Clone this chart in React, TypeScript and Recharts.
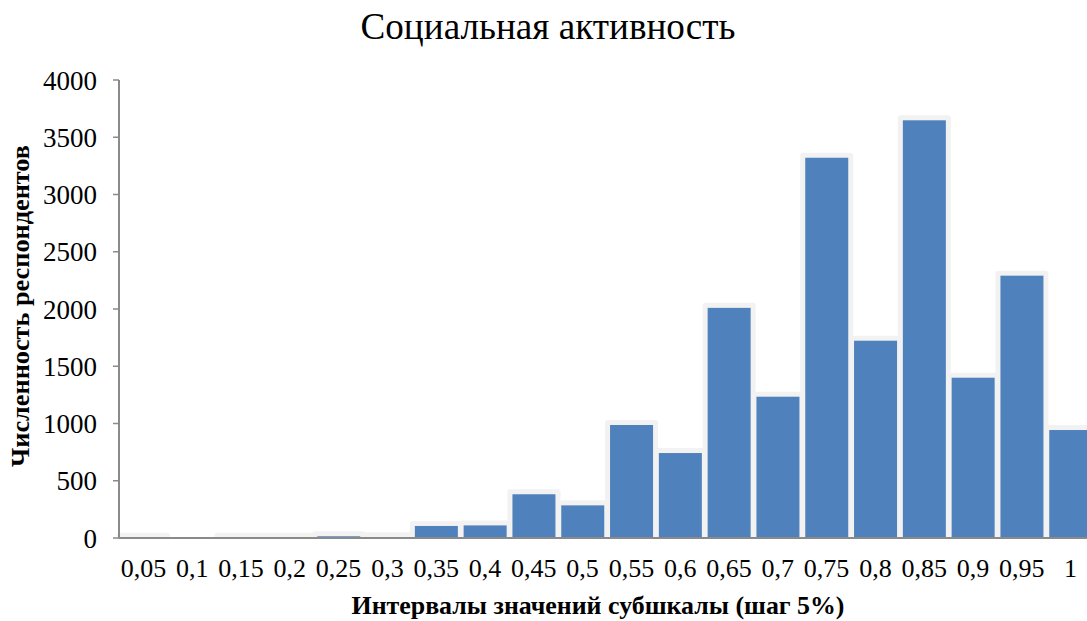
import { BarChart, Bar, XAxis, YAxis, Label } from "recharts";

const intervals = [
    "0,05", "0,1", "0,15", "0,2", "0,25", "0,3", "0,35", "0,4", "0,45", "0,5",
    "0,55", "0,6", "0,65", "0,7", "0,75", "0,8", "0,85", "0,9", "0,95", "1",
];

const respondents = [
    3, 0, 3, 3, 15, 6, 105, 110, 382, 285,
    987, 742, 2010, 1234, 3321, 1723, 3648, 1400, 2291, 943,
];

const yTicks = [0, 500, 1000, 1500, 2000, 2500, 3000, 3500, 4000];

const data = intervals.map((name, i) => ({ name, value: respondents[i] }));

const FONT = '"Liberation Serif", "Times New Roman", serif';
const AXIS = "#8a8a8a";

// bar with the light grey halo around it
const GlowBar = (props: any) => {
    const { x, y, width, height, value } = props;
    if (!value) return <g />;
    const g = 5;
    return (
        <g>
            <rect
                x={x - g}
                y={y - g}
                width={width + g * 2}
                height={height + g}
                rx={3}
                fill="#f2f2f2"
            />
            <rect x={x} y={y} width={width} height={height} fill="#4f81bd" />
        </g>
    );
};

export default function App() {
    return (
        <div
            style={{
                position: "absolute",
                left: 0,
                top: 0,
                width: 1087,
                height: 621,
                overflow: "hidden",
                background: "#fff",
                fontFamily: FONT,
            }}
        >
            <svg
                width={1087}
                height={60}
                style={{ position: "absolute", left: 0, top: 0 }}
            >
                <text
                    x={548}
                    y={39}
                    textAnchor="middle"
                    fontFamily={FONT}
                    fontSize={38}
                    textLength={375}
                    lengthAdjust="spacingAndGlyphs"
                    fill="#000"
                >
                    Социальная активность
                </text>
            </svg>

            <BarChart
                width={1095}
                height={621}
                data={data}
                margin={{ top: 80, right: 0, left: 0, bottom: 0 }}
                barCategoryGap="6.25%"
                style={{ position: "absolute", left: 0, top: 0 }}
            >
                <XAxis
                    dataKey="name"
                    height={83}
                    interval={0}
                    tickLine={false}
                    tickSize={0}
                    tickMargin={21}
                    axisLine={{ stroke: AXIS, strokeWidth: 2 }}
                    tick={{ fill: "#000", fontSize: 26, fontFamily: FONT }}
                >
                    <Label
                        content={() => (
                            <text
                                x={598}
                                y={614}
                                textAnchor="middle"
                                fontFamily={FONT}
                                fontWeight="bold"
                                fontSize={25}
                                textLength={493}
                                lengthAdjust="spacingAndGlyphs"
                                fill="#000"
                            >
                                Интервалы значений субшкалы (шаг 5%)
                            </text>
                        )}
                    />
                </XAxis>
                <YAxis
                    width={119}
                    domain={[0, 4000]}
                    ticks={yTicks}
                    interval={0}
                    tickSize={6}
                    tickMargin={16}
                    tickLine={{ stroke: AXIS, strokeWidth: 1.5 }}
                    axisLine={{ stroke: AXIS, strokeWidth: 2 }}
                    tick={{ fill: "#000", fontSize: 27, fontFamily: FONT }}
                >
                    <Label
                        content={() => (
                            <text
                                x={28.5}
                                y={306}
                                transform="rotate(-90, 28.5, 306)"
                                textAnchor="middle"
                                fontFamily={FONT}
                                fontWeight="bold"
                                fontSize={25}
                                textLength={322}
                                lengthAdjust="spacingAndGlyphs"
                                fill="#000"
                            >
                                Численность респондентов
                            </text>
                        )}
                    />
                </YAxis>
                <Bar
                    dataKey="value"
                    shape={GlowBar}
                    isAnimationActive={false}
                />
            </BarChart>
        </div>
    );
}
